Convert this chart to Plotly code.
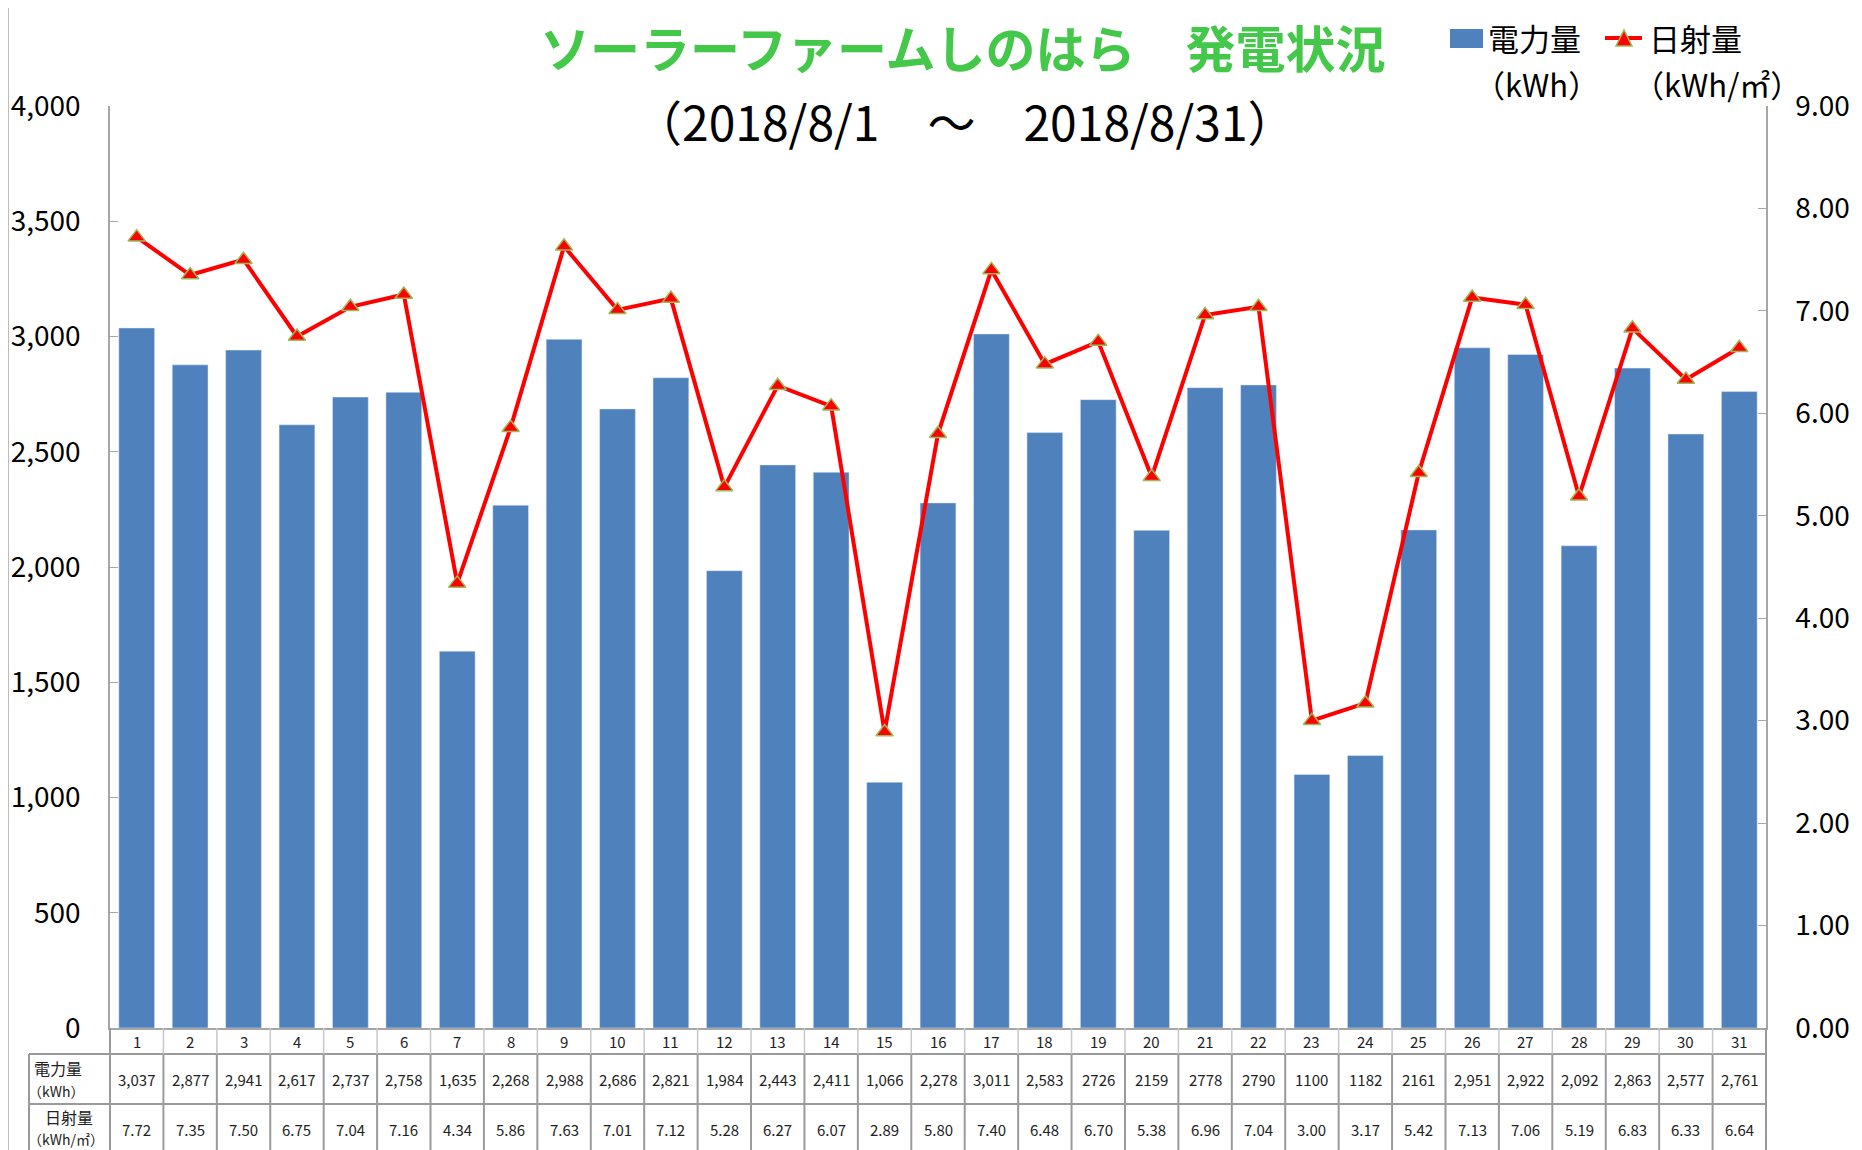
import plotly.graph_objects as go

# ---------------- data ----------------
days = list(range(1, 32))
power_kwh = [3037, 2877, 2941, 2617, 2737, 2758, 1635, 2268, 2988, 2686, 2821,
             1984, 2443, 2411, 1066, 2278, 3011, 2583, 2726, 2159, 2778, 2790,
             1100, 1182, 2161, 2951, 2922, 2092, 2863, 2577, 2761]
irradiance = [7.72, 7.35, 7.50, 6.75, 7.04, 7.16, 4.34, 5.86, 7.63, 7.01, 7.12,
              5.28, 6.27, 6.07, 2.89, 5.80, 7.40, 6.48, 6.70, 5.38, 6.96, 7.04,
              3.00, 3.17, 5.42, 7.13, 7.06, 5.19, 6.83, 6.33, 6.64]
power_labels = ["3,037", "2,877", "2,941", "2,617", "2,737", "2,758", "1,635",
                "2,268", "2,988", "2,686", "2,821", "1,984", "2,443", "2,411",
                "1,066", "2,278", "3,011", "2,583", "2726", "2159", "2778",
                "2790", "1100", "1182", "2161", "2,951", "2,922", "2,092",
                "2,863", "2,577", "2,761"]
irr_labels = [f"{v:.2f}" for v in irradiance]
day_labels = [str(d) for d in days]

title_text = "ソーラーファームしのはら　発電状況"
subtitle_text = "（2018/8/1　～　2018/8/31）"
name_power = "電力量"
unit_power = "（kWh）"
name_irr = "日射量"
unit_irr = "（kWh/㎡）"

# ---------------- layout helpers ----------------
OFF = 8                      # page body margin of the html page
W, H = 1862 - OFF, 1150 - OFF
L, R, T, B = 110, 1766, 106, 1028   # plot area in screen pixels
FONT = "Noto Sans CJK JP"
BAR_COLOR = "#4F81BD"
LINE_COLOR = "#FF0000"
MARKER_EDGE = "#9BBB59"
GRID_GRAY = "#A6A6A6"


def px(x):
    return (x - L) / (R - L)


def py(y):
    return (B - y) / (B - T)


fig = go.Figure()
fig.add_trace(go.Bar(x=days, y=power_kwh, marker_color=BAR_COLOR,
                     name=name_power, showlegend=False))
fig.add_trace(go.Scatter(x=days, y=irradiance, yaxis="y2", mode="lines+markers",
                         line=dict(color=LINE_COLOR, width=4),
                         marker=dict(symbol="triangle-up", size=15, color=LINE_COLOR,
                                     line=dict(color=MARKER_EDGE, width=1.5)),
                         name=name_irr, showlegend=False))

shapes = []
annotations = []

# outer chart border
shapes.append(dict(type="rect", xref="paper", yref="paper",
                   x0=px(8), x1=px(1857), y0=py(1160), y1=py(5),
                   line=dict(color=GRID_GRAY, width=1.5), fillcolor="rgba(0,0,0,0)",
                   layer="below"))

# ---- data table under the chart ----
tbl_col = "#9A9A9A"
y_axis = py(B)
y_r1 = py(1054)
y_r2 = py(1104)
y_bot = py(1160)
shapes.append(dict(type="line", xref="paper", yref="paper", x0=px(29), x1=1,
                   y0=y_r1, y1=y_r1, line=dict(color=tbl_col, width=2)))
shapes.append(dict(type="line", xref="paper", yref="paper", x0=px(29), x1=1,
                   y0=y_r2, y1=y_r2, line=dict(color=tbl_col, width=2)))
shapes.append(dict(type="line", xref="paper", yref="paper", x0=px(29), x1=px(29),
                   y0=y_r1, y1=y_bot, line=dict(color=tbl_col, width=2)))
shapes.append(dict(type="line", xref="paper", yref="paper", x0=0, x1=0,
                   y0=y_axis, y1=y_bot, line=dict(color=tbl_col, width=2)))
shapes.append(dict(type="line", xref="paper", yref="paper", x0=1, x1=1,
                   y0=y_axis, y1=y_bot, line=dict(color=tbl_col, width=2)))
for d in days[:-1]:
    shapes.append(dict(type="line", xref="x", yref="paper", x0=d + 0.5, x1=d + 0.5,
                       y0=y_axis, y1=y_r1, line=dict(color="#C8C8C8", width=1.5)))
    shapes.append(dict(type="line", xref="x", yref="paper", x0=d + 0.5, x1=d + 0.5,
                       y0=y_r1, y1=y_bot, line=dict(color=tbl_col, width=2)))

cell_font = dict(family=FONT, size=15, color="#222222")
for d, dl, pl, il in zip(days, day_labels, power_labels, irr_labels):
    annotations.append(dict(x=d, y=py(1041), xref="x", yref="paper", text=dl,
                            showarrow=False, font=cell_font, xanchor="center",
                            yanchor="middle"))
    annotations.append(dict(x=d, y=py(1079), xref="x", yref="paper", text=pl,
                            showarrow=False, font=cell_font, xanchor="center",
                            yanchor="middle"))
    annotations.append(dict(x=d, y=py(1129), xref="x", yref="paper", text=il,
                            showarrow=False, font=cell_font, xanchor="center",
                            yanchor="middle"))

lab_font = dict(family=FONT, size=16, color="#222222")
annotations += [
    dict(x=px(32), y=py(1068), xref="paper", yref="paper", text=name_power,
         showarrow=False, font=lab_font, xanchor="left", yanchor="middle"),
    dict(x=px(26), y=py(1091), xref="paper", yref="paper", text=unit_power,
         showarrow=False, font=dict(family=FONT, size=14, color="#222222"),
         xanchor="left", yanchor="middle"),
    dict(x=px(69), y=py(1117), xref="paper", yref="paper", text=name_irr,
         showarrow=False, font=lab_font, xanchor="center", yanchor="middle"),
    dict(x=px(66), y=py(1139), xref="paper", yref="paper", text=unit_irr,
         showarrow=False, font=dict(family=FONT, size=14, color="#222222"),
         xanchor="center", yanchor="middle"),
]

# ---- titles ----
annotations.append(dict(x=px(963), y=py(46), xref="paper", yref="paper",
                        text=f"<b>{title_text}</b>", showarrow=False,
                        font=dict(family=FONT, size=50, color="#44C84A"),
                        xanchor="center", yanchor="middle"))
annotations.append(dict(x=px(965), y=py(120), xref="paper", yref="paper",
                        text=subtitle_text, showarrow=False,
                        font=dict(family=FONT, size=48, color="#000000"),
                        xanchor="center", yanchor="middle"))

# ---- custom legend ----
leg_font = dict(family=FONT, size=31, color="#000000")
shapes.append(dict(type="rect", xref="paper", yref="paper", x0=px(1450), x1=px(1483),
                   y0=py(48), y1=py(29), fillcolor=BAR_COLOR, line=dict(width=0)))
annotations.append(dict(x=px(1486), y=py(37), xref="paper", yref="paper",
                        text=name_power, showarrow=False, font=leg_font,
                        xanchor="left", yanchor="middle"))
annotations.append(dict(x=px(1472), y=py(83), xref="paper", yref="paper",
                        text=unit_power, showarrow=False, font=leg_font,
                        xanchor="left", yanchor="middle"))
shapes.append(dict(type="line", xref="paper", yref="paper", x0=px(1605), x1=px(1642),
                   y0=py(38), y1=py(38), line=dict(color=LINE_COLOR, width=4)))
shapes.append(dict(type="path", xref="paper", yref="paper",
                   path=(f"M {px(1616)} {py(46)} L {px(1632)} {py(46)} "
                         f"L {px(1624)} {py(30)} Z"),
                   fillcolor=LINE_COLOR, line=dict(color=MARKER_EDGE, width=1.5)))
annotations.append(dict(x=px(1647), y=py(37), xref="paper", yref="paper",
                        text=name_irr, showarrow=False, font=leg_font,
                        xanchor="left", yanchor="middle"))
annotations.append(dict(x=px(1631), y=py(83), xref="paper", yref="paper",
                        text=unit_irr, showarrow=False, font=leg_font,
                        xanchor="left", yanchor="middle"))

tick_font = dict(family=FONT, size=28, color="#000000")
fig.update_layout(
    width=W, height=H,
    margin=dict(l=L - OFF, r=W - (R - OFF), t=T - OFF, b=H - (B - OFF), pad=0,
                autoexpand=False),
    paper_bgcolor="white", plot_bgcolor="white",
    bargap=0.33,
    showlegend=False,
    font=dict(family=FONT),
    xaxis=dict(range=[0.5, 31.5], showticklabels=False, ticks="",
               showgrid=False, zeroline=False, showline=True, automargin=False,
               linecolor=GRID_GRAY, linewidth=2, fixedrange=True),
    yaxis=dict(range=[0, 4000], dtick=500, tickformat=",", ticks="inside",
               ticklen=8, tickcolor=GRID_GRAY, showgrid=False, zeroline=False,
               showline=True, linecolor=GRID_GRAY, linewidth=1.5, automargin=False,
               tickfont=tick_font, ticklabelstandoff=22),
    yaxis2=dict(range=[0, 9], dtick=1, tickformat=".2f", overlaying="y",
                side="right", ticks="inside", ticklen=8, tickcolor=GRID_GRAY,
                showgrid=False, zeroline=False, showline=True, automargin=False,
                linecolor=GRID_GRAY, linewidth=1.5, tickfont=tick_font,
                ticklabelstandoff=22),
    shapes=shapes,
    annotations=annotations,
)

fig.write_html("out.html")
